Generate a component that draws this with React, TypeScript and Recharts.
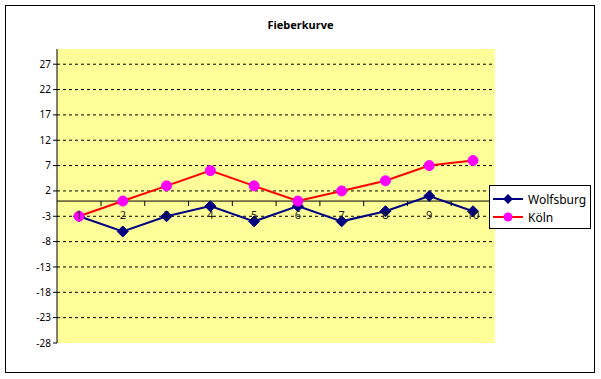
import { LineChart, Line, XAxis, YAxis, CartesianGrid, ReferenceLine } from 'recharts';

const tage = ['1', '2', '3', '4', '5', '6', '7', '8', '9', '10'];
const wolfsburg = [-3, -6, -3, -1, -4, -1, -4, -2, 1, -2];
const koeln = [-3, 0, 3, 6, 3, 0, 2, 4, 7, 8];
const yTicks = [-28, -23, -18, -13, -8, -3, 2, 7, 12, 17, 22, 27];
const Y_MIN = -28;
const Y_MAX = 30;

const data = tage.map((tag, i) => ({ tag, Wolfsburg: wolfsburg[i], 'Köln': koeln[i] }));

const PLOT_TOP = 49;
const PLOT_BOTTOM = 343;
const HALF_BAND = 22;
const zeroY = PLOT_BOTTOM - ((PLOT_BOTTOM - PLOT_TOP) * (0 - Y_MIN)) / (Y_MAX - Y_MIN);

const font = '"Noto Sans", "DejaVu Sans", sans-serif';

function Diamond(props: any) {
  const { cx, cy } = props;
  if (cx == null || cy == null) return null;
  const r = 5.5;
  return <polygon points={`${cx},${cy - r} ${cx + r},${cy} ${cx},${cy + r} ${cx - r},${cy}`} fill="#000080" stroke="#000080" />;
}

function Dot(props: any) {
  const { cx, cy } = props;
  if (cx == null || cy == null) return null;
  return <circle cx={cx} cy={cy} r={5} fill="#FF00FF" stroke="#FF00FF" />;
}

function TagTick(props: any) {
  const { x, payload } = props;
  return (
    <g>
      <line x1={x + HALF_BAND} x2={x + HALF_BAND} y1={zeroY} y2={zeroY + 5} stroke="#000" />
      <text x={x} y={zeroY + 18} textAnchor="middle" fontSize={11} fontFamily={font} fill="#222">
        {payload.value}
      </text>
    </g>
  );
}

const legendItems = [
  { name: 'Wolfsburg', color: '#000080', marker: 'diamond' },
  { name: 'Köln', color: '#FF0000', marker: 'circle' },
];

function LegendBox() {
  return (
    <div
      style={{
        position: 'absolute',
        left: 489,
        top: 185,
        border: '1px solid #000',
        background: '#fff',
        width: 102,
        height: 44,
        boxSizing: 'border-box',
        paddingTop: 4,
        fontFamily: font,
        fontSize: 12,
      }}
    >
      {legendItems.map((it) => (
        <div key={it.name} style={{ display: 'flex', alignItems: 'center', height: 18 }}>
          <svg width={38} height={12} style={{ flex: 'none' }}>
            <line x1={3} x2={33} y1={6} y2={6} stroke={it.color} strokeWidth={2} />
            {it.marker === 'diamond' ? (
              <polygon points="18,1 23,6 18,11 13,6" fill="#000080" />
            ) : (
              <circle cx={18} cy={6} r={4.5} fill="#FF00FF" />
            )}
          </svg>
          <span style={{ color: '#000' }}>{it.name}</span>
        </div>
      ))}
    </div>
  );
}

export default function App() {
  return (
    <div style={{ position: 'absolute', left: 0, top: 0, width: 601, height: 379, background: '#fff' }}>
      <div
        style={{
          position: 'absolute',
          left: 5,
          top: 5,
          width: 590,
          height: 368,
          border: '1px solid #000',
          boxSizing: 'border-box',
        }}
      />
      <div
        style={{
          position: 'absolute',
          left: 0,
          top: 17,
          width: 601,
          textAlign: 'center',
          fontFamily: font,
          fontSize: 11,
          fontWeight: 'bold',
          color: '#000',
        }}
      >
        Fieberkurve
      </div>
      <LineChart
        width={601}
        height={379}
        data={data}
        margin={{ top: PLOT_TOP, right: 106, bottom: 379 - PLOT_BOTTOM - 1, left: 7 }}
      >
        <CartesianGrid
          horizontal
          vertical={false}
          fill="#FFFF99"
          stroke="#000"
          strokeDasharray="3 3"
          horizontalValues={yTicks.slice(1)}
        />
        <XAxis
          dataKey="tag"
          height={1}
          axisLine={false}
          tickLine={false}
          padding={{ left: HALF_BAND, right: HALF_BAND }}
          tick={(p: any) => <TagTick {...p} />}
          interval={0}
        />
        <YAxis
          width={50}
          domain={[Y_MIN, Y_MAX]}
          ticks={yTicks}
          interval={0}
          axisLine={{ stroke: '#000' }}
          tickLine={{ stroke: '#000' }}
          tickSize={4}
          tick={{ fontSize: 10, fill: '#000', fontFamily: font }}
        />
        <ReferenceLine y={0} stroke="#000" strokeWidth={1} />
        <Line
          dataKey="Wolfsburg"
          stroke="#000080"
          strokeWidth={2}
          dot={<Diamond />}
          isAnimationActive={false}
        />
        <Line
          dataKey="Köln"
          stroke="#FF0000"
          strokeWidth={2}
          dot={<Dot />}
          isAnimationActive={false}
        />
      </LineChart>
      <LegendBox />
    </div>
  );
}
